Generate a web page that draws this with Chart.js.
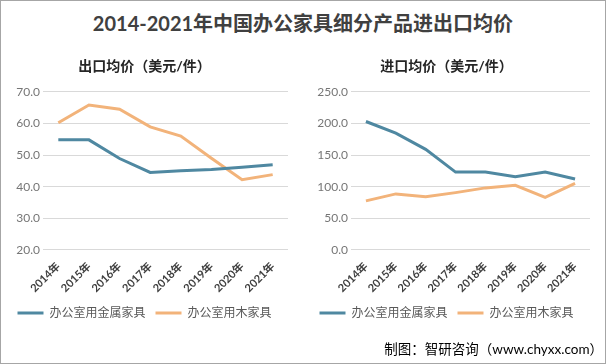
<!DOCTYPE html>
<html>
<head>
<meta charset="utf-8">
<script src="https://cdn.jsdelivr.net/npm/chart.js@4"></script>
<style>
  body { margin: 0; background: #fff; }
  #wrap { position: relative; width: 604px; height: 362px; border: 1px solid #a6a6a6; background: #fff;
          font-family: Lato, "Noto Sans CJK SC", sans-serif; }
  #title { position: absolute; left: 0; top: 8px; width: 604px; text-align: center;
           font-size: 20px; font-weight: bold; color: #404040; line-height: 28px; }
  .box { position: absolute; top: 47px; width: 303px; height: 285px; }
  #source { position: absolute; right: 2px; top: 338px; font-size: 13.5px; color: #000; line-height: 20px; }
</style>
</head>
<body>
<div id="wrap">
  <div id="title">2014-2021年中国办公家具细分产品进出口均价</div>
  <div class="box" style="left:0"><canvas id="exportChart"></canvas></div>
  <div class="box" style="left:302px"><canvas id="importChart"></canvas></div>
  <div id="source">制图：智研咨询（www.chyxx.com）</div>
</div>
<script>
const years = ['2014年', '2015年', '2016年', '2017年', '2018年', '2019年', '2020年', '2021年'];
const seriesNames = ['办公室用金属家具', '办公室用木家具'];

// 出口均价（美元/件）
const exportMetal = [54.8, 54.8, 48.9, 44.5, 45.0, 45.4, 46.1, 46.9];
const exportWood = [60.2, 65.8, 64.5, 58.9, 56.0, 49.0, 42.2, 43.8];

// 进口均价（美元/件）
const importMetal = [203.0, 184.5, 159.0, 123.0, 123.0, 115.5, 123.0, 112.0];
const importWood = [77.5, 88.5, 84.0, 90.5, 98.0, 102.0, 83.0, 105.0];

const blue = '#4f88a1';
const orange = '#f2b37a';
const fontFamily = 'Lato, "Noto Sans CJK SC", sans-serif';

function makeChart(id, title, metal, wood, yMin, yMax, step, axisWidth) {
  const ctx = document.getElementById(id).getContext('2d');
  return new Chart(ctx, {
    type: 'line',
    data: {
      labels: years,
      datasets: [
        { label: seriesNames[0], data: metal, borderColor: blue, backgroundColor: blue,
          borderWidth: 3, pointRadius: 0, pointStyle: 'line', tension: 0 },
        { label: seriesNames[1], data: wood, borderColor: orange, backgroundColor: orange,
          borderWidth: 3, pointRadius: 0, pointStyle: 'line', tension: 0 }
      ]
    },
    options: {
      responsive: true,
      maintainAspectRatio: false,
      animation: false,
      layout: { padding: { left: 0, right: 16, bottom: 4 } },
      scales: {
        x: {
          offset: true,
          grid: { display: false },
          border: { display: false },
          ticks: { color: '#404040', font: { family: fontFamily, size: 11, weight: 'bold' },
                   maxRotation: 45, minRotation: 45, padding: 2 }
        },
        y: {
          min: yMin, max: yMax,
          grid: { color: '#d9d9d9', drawTicks: false },
          border: { display: false },
          afterFit: s => { s.width = axisWidth; },
          ticks: { stepSize: step, color: '#767676', padding: 3,
                   font: { family: fontFamily, size: 12 },
                   callback: v => v.toFixed(1) }
        }
      },
      plugins: {
        title: {
          display: true, text: title, color: '#262626',
          font: { family: fontFamily, size: 14, weight: 'bold' },
          padding: { top: 10, bottom: 17 }
        },
        legend: {
          position: 'bottom',
          labels: { usePointStyle: true, pointStyleWidth: 26, color: '#595959',
                    font: { family: fontFamily, size: 12 }, padding: 10 }
        },
        tooltip: { enabled: false }
      }
    }
  });
}

makeChart('exportChart', '出口均价（美元/件）', exportMetal, exportWood, 20, 70, 10, 42);
makeChart('importChart', '进口均价（美元/件）', importMetal, importWood, 0, 250, 50, 48);
</script>
</body>
</html>
